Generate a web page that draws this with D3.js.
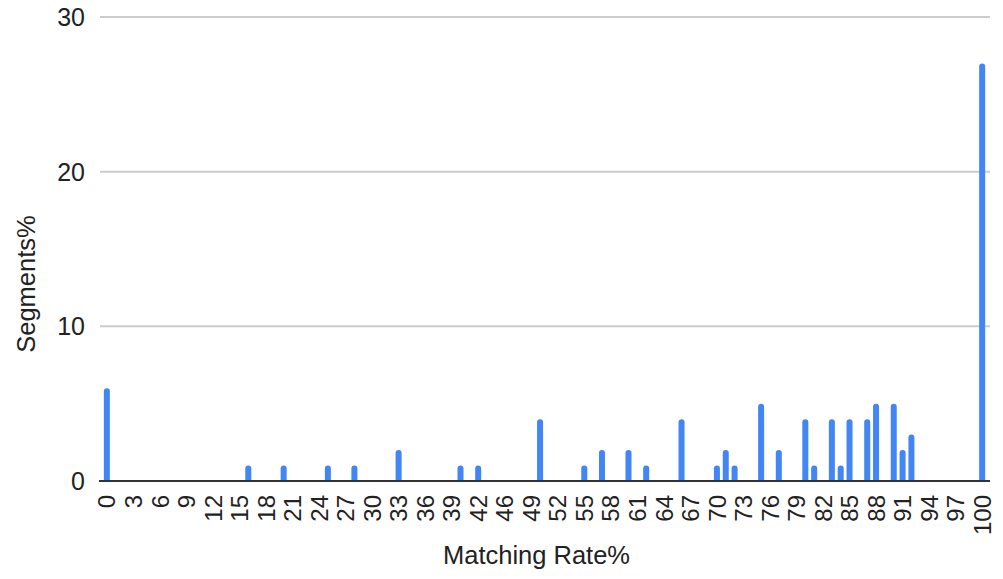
<!DOCTYPE html>
<html>
<head>
<meta charset="utf-8">
<script src="https://cdn.jsdelivr.net/npm/d3@7"></script>
<style>
  body { margin: 0; background: #fff; }
  svg text { font-family: "Liberation Sans", Arial, sans-serif; fill: #222; }
</style>
</head>
<body>
<div class="chart"></div>
<script>
// matching rate categories (45 is not in the data)
const rates = [0,1,2,3,4,5,6,7,8,9,10,11,12,13,14,15,16,17,18,19,20,21,22,23,24,25,26,27,28,29,
    30,31,32,33,34,35,36,37,38,39,40,41,42,43,44,46,47,48,49,50,51,52,53,54,55,56,57,58,59,60,
    61,62,63,64,65,66,67,68,69,70,71,72,73,74,75,76,77,78,79,80,81,82,83,84,85,86,87,88,89,90,
    91,92,93,94,95,96,97,98,99,100]

const barRates  = [0, 16, 20, 25, 28, 33, 40, 42, 50, 55, 57, 60, 62, 66, 70, 71, 72, 75, 77, 80, 81, 83, 84, 85, 87, 88, 90, 91, 92, 100]
const barValues = [6,  1,  1,  1,  1,  2,  1,  1,  4,  1,  2,  2,  1,  4,  1,  2,  1,  5,  2,  4,  1,  4,  1,  4,  4,  5,  5,  2,  3,  27]

const xTickLabels = [0,3,6,9,12,15,18,21,24,27,30,33,36,39,42,46,49,52,55,58,61,64,67,70,73,76,79,82,85,88,91,94,97,100]
const yTicks = [0, 10, 20, 30]

const svgWidth = 1003
const svgHeight = 579
const margin = {top: 17, right: 15, bottom: 98, left: 101}
const graphWidth = svgWidth - margin.left - margin.right
const graphHeight = svgHeight - margin.top - margin.bottom

const data = barRates.map((r, i) => ({rate: r, value: barValues[i]}))

const svg = d3.select('.chart')
    .append('svg')
    .attr('width', svgWidth)
    .attr('height', svgHeight)
const graph = svg.append('g')
    .attr('transform', `translate(${margin.left},${margin.top})`)

const x = d3.scaleBand()
    .domain(rates)
    .range([0, graphWidth])
    .padding(0.32)
const y = d3.scaleLinear()
    .domain([0, 30])
    .range([graphHeight, 0])

// gridlines + y labels
graph.selectAll('.grid')
    .data(yTicks.filter(d => d > 0))
    .join('line')
    .attr('class', 'grid')
    .attr('x1', -1).attr('x2', graphWidth + 2)
    .attr('y1', d => y(d)).attr('y2', d => y(d))
    .attr('stroke', '#cccccc')
    .attr('stroke-width', 2)

graph.selectAll('.ylab')
    .data(yTicks)
    .join('text')
    .attr('class', 'ylab')
    .attr('x', -16)
    .attr('y', d => y(d))
    .attr('dy', '0.36em')
    .attr('text-anchor', 'end')
    .style('font-size', '25px')
    .text(d => d)

// bars with rounded tops
const r = 3
graph.selectAll('.bar')
    .data(data)
    .join('path')
    .attr('class', 'bar')
    .attr('fill', '#4285f4')
    .attr('d', d => {
        const x0 = x(d.rate), w = x.bandwidth()
        const y0 = y(d.value), yb = y(0)
        return `M${x0},${yb} L${x0},${y0 + r} A${r},${r} 0 0 1 ${x0 + r},${y0} L${x0 + w - r},${y0} A${r},${r} 0 0 1 ${x0 + w},${y0 + r} L${x0 + w},${yb} Z`
    })

// baseline
graph.append('line')
    .attr('x1', -2).attr('x2', graphWidth + 2)
    .attr('y1', y(0)).attr('y2', y(0))
    .attr('stroke', '#333')
    .attr('stroke-width', 2)

// x labels, rotated, every third category
const xAxis = d3.axisBottom(x)
    .tickValues(xTickLabels)
    .tickSize(0)
    .tickPadding(0)
const xg = graph.append('g')
    .attr('transform', `translate(0,${graphHeight})`)
    .call(xAxis)
xg.select('.domain').remove()
xg.selectAll('text')
    .attr('transform', 'rotate(-90)')
    .attr('x', -14)
    .attr('y', 0)
    .attr('dy', '0.36em')
    .attr('text-anchor', 'end')
    .style('font-size', '24px')
    .style('font-family', '"Liberation Sans", Arial, sans-serif')
    .attr('fill', '#222')

// axis titles
svg.append('text')
    .attr('x', margin.left + graphWidth / 2 - 8)
    .attr('y', 564)
    .attr('text-anchor', 'middle')
    .style('font-size', '25.5px')
    .text('Matching Rate%')

svg.append('text')
    .attr('transform', `translate(35,${284}) rotate(-90)`)
    .attr('text-anchor', 'middle')
    .style('font-size', '25.5px')
    .text('Segments%')
</script>
</body>
</html>
